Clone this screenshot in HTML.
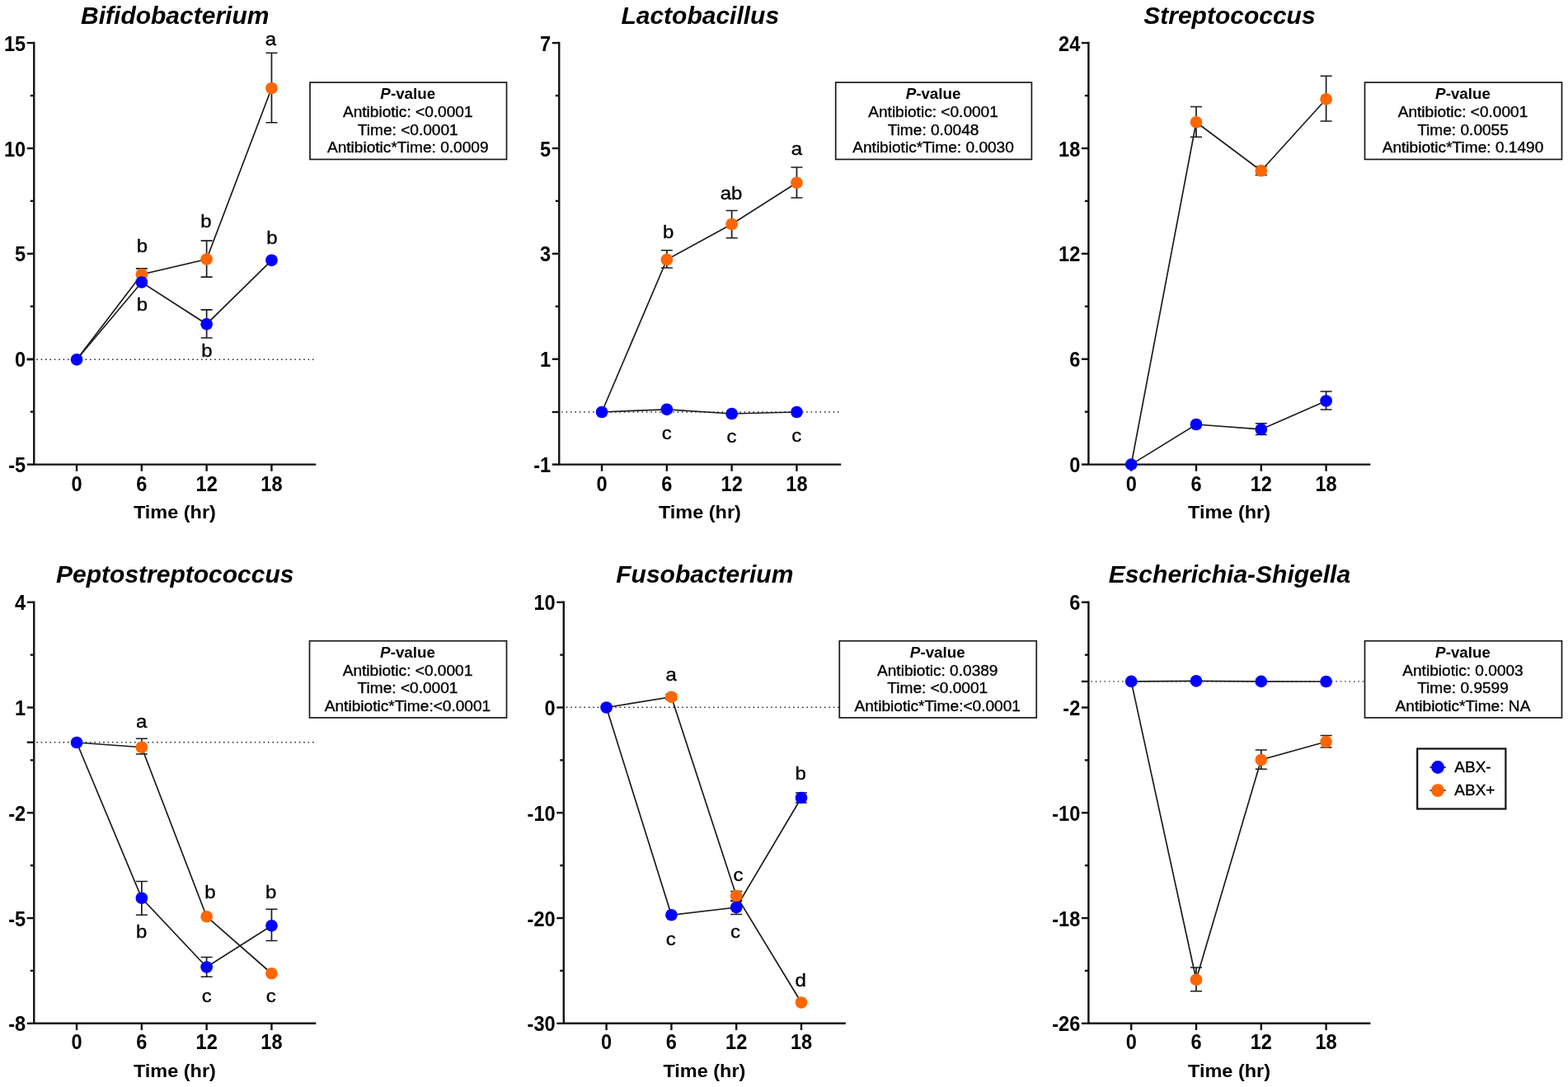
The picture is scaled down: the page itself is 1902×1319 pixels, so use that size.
<!DOCTYPE html>
<html><head><meta charset="utf-8"><title>Figure</title><style>
html,body{margin:0;padding:0;background:#fff}
svg{display:block}
text{font-family:"Liberation Sans", sans-serif;fill:#000}
.t{font-size:30px;font-weight:bold;font-style:italic;text-anchor:middle}
.yl{font-size:25.5px;font-weight:bold;text-anchor:end}
.xl{font-size:25.5px;font-weight:bold;text-anchor:middle}
.xt{font-size:22.8px;font-weight:bold;text-anchor:middle}
.lt{font-size:22.6px;text-anchor:middle;stroke:#111;stroke-width:0.4px}
.pv{font-size:18.8px;font-weight:bold;text-anchor:middle}
.pl{font-size:19.1px;text-anchor:middle;stroke:#111;stroke-width:0.4px}
.lg{font-size:19px;stroke:#111;stroke-width:0.4px}
.ax{fill:none;stroke:#111;stroke-width:2.4}
.tk{stroke:#111;stroke-width:2.4}
.ln{fill:none;stroke:#1c1c1c;stroke-width:1.7}
.eb{fill:none;stroke:#1c1c1c;stroke-width:1.7}
.dot{stroke:#222;stroke-width:1.3;stroke-dasharray:1.5 3.9}
.bx{fill:#fff;stroke:#1a1a1a;stroke-width:1.7}
</style></head><body>
<svg width="1902" height="1319" viewBox="0 0 1902 1319">
<rect width="1902" height="1319" fill="#fff"/>
<text x="212.25" y="28.5" class="t">Bifidobacterium</text>
<line x1="44.25" y1="436.25" x2="381.25" y2="436.25" class="dot"/>
<line x1="32.75" y1="436.25" x2="41.25" y2="436.25" class="tk"/>
<path d="M41.25 50.75V563.6H383.25" class="ax"/>
<line x1="32.75" y1="52.10" x2="41.25" y2="52.10" class="tk"/>
<text transform="translate(31.15 61.70) scale(0.925 1)" class="yl">15</text>
<line x1="36.75" y1="116.04" x2="41.25" y2="116.04" class="tk"/>
<line x1="32.75" y1="179.97" x2="41.25" y2="179.97" class="tk"/>
<text transform="translate(31.15 189.57) scale(0.925 1)" class="yl">10</text>
<line x1="36.75" y1="243.91" x2="41.25" y2="243.91" class="tk"/>
<line x1="32.75" y1="307.85" x2="41.25" y2="307.85" class="tk"/>
<text transform="translate(31.15 317.45) scale(0.925 1)" class="yl">5</text>
<line x1="36.75" y1="371.79" x2="41.25" y2="371.79" class="tk"/>
<line x1="32.75" y1="435.73" x2="41.25" y2="435.73" class="tk"/>
<text transform="translate(31.15 445.33) scale(0.925 1)" class="yl">0</text>
<line x1="36.75" y1="499.66" x2="41.25" y2="499.66" class="tk"/>
<line x1="32.75" y1="563.60" x2="41.25" y2="563.60" class="tk"/>
<text transform="translate(31.15 573.20) scale(0.925 1)" class="yl">-5</text>
<line x1="93.05" y1="563.6" x2="93.05" y2="571.8000000000001" class="tk"/>
<text transform="translate(93.05 596.00) scale(0.925 1)" class="xl">0</text>
<line x1="171.85" y1="563.6" x2="171.85" y2="571.8000000000001" class="tk"/>
<text transform="translate(171.85 596.00) scale(0.925 1)" class="xl">6</text>
<line x1="250.65" y1="563.6" x2="250.65" y2="571.8000000000001" class="tk"/>
<text transform="translate(250.65 596.00) scale(0.925 1)" class="xl">12</text>
<line x1="329.45" y1="563.6" x2="329.45" y2="571.8000000000001" class="tk"/>
<text transform="translate(329.45 596.00) scale(0.925 1)" class="xl">18</text>
<text transform="translate(211.85 629.00) scale(1.03 1)" class="xt">Time (hr)</text>
<polyline points="93.05,436.3 171.85,333 250.65,314.5 329.45,107" class="ln"/>
<polyline points="93.05,436.3 171.85,342.5 250.65,393.3 329.45,315.8" class="ln"/>
<path d="M164.85 325.8H178.85M171.85 325.8V340M164.85 340H178.85" class="eb"/>
<path d="M243.65 292.2H257.65M250.65 292.2V336.2M243.65 336.2H257.65" class="eb"/>
<path d="M322.45 64.25H336.45M329.45 64.25V148.75M322.45 148.75H336.45" class="eb"/>
<path d="M243.65 375.8H257.65M250.65 375.8V410M243.65 410H257.65" class="eb"/>
<circle cx="171.85" cy="333" r="7.35" fill="#ff6600"/>
<circle cx="250.65" cy="314.5" r="7.35" fill="#ff6600"/>
<circle cx="329.45" cy="107" r="7.35" fill="#ff6600"/>
<circle cx="93.05" cy="436.3" r="7.35" fill="#0000ff"/>
<circle cx="171.85" cy="342.5" r="7.35" fill="#0000ff"/>
<circle cx="250.65" cy="393.3" r="7.35" fill="#0000ff"/>
<circle cx="329.45" cy="315.8" r="7.35" fill="#0000ff"/>
<text transform="translate(172.50 305.80) scale(1.06 1)" class="lt">b</text>
<text transform="translate(172.50 376.70) scale(1.06 1)" class="lt">b</text>
<text transform="translate(250.00 276.30) scale(1.06 1)" class="lt">b</text>
<text transform="translate(330.00 295.80) scale(1.06 1)" class="lt">b</text>
<text transform="translate(250.80 432.50) scale(1.06 1)" class="lt">b</text>
<text transform="translate(328.50 54.50) scale(1.06 1)" class="lt">a</text>
<rect x="376" y="100" width="238.5" height="93.4" class="bx"/>
<text x="494.75" y="120.2" class="pv"><tspan font-style="italic">P</tspan>-value</text>
<text x="494.75" y="142.2" class="pl">Antibiotic: &lt;0.0001</text>
<text x="494.75" y="163.5" class="pl">Time: &lt;0.0001</text>
<text x="494.75" y="185.4" class="pl">Antibiotic*Time: 0.0009</text>
<text x="849.25" y="28.5" class="t">Lactobacillus</text>
<line x1="681.25" y1="500" x2="1018.25" y2="500" class="dot"/>
<line x1="669.75" y1="500" x2="678.25" y2="500" class="tk"/>
<path d="M678.25 50.75V563.6H1020.25" class="ax"/>
<line x1="669.75" y1="52.10" x2="678.25" y2="52.10" class="tk"/>
<text transform="translate(668.15 61.70) scale(0.925 1)" class="yl">7</text>
<line x1="673.75" y1="116.04" x2="678.25" y2="116.04" class="tk"/>
<line x1="669.75" y1="179.97" x2="678.25" y2="179.97" class="tk"/>
<text transform="translate(668.15 189.57) scale(0.925 1)" class="yl">5</text>
<line x1="673.75" y1="243.91" x2="678.25" y2="243.91" class="tk"/>
<line x1="669.75" y1="307.85" x2="678.25" y2="307.85" class="tk"/>
<text transform="translate(668.15 317.45) scale(0.925 1)" class="yl">3</text>
<line x1="673.75" y1="371.79" x2="678.25" y2="371.79" class="tk"/>
<line x1="669.75" y1="435.73" x2="678.25" y2="435.73" class="tk"/>
<text transform="translate(668.15 445.33) scale(0.925 1)" class="yl">1</text>
<line x1="669.75" y1="563.60" x2="678.25" y2="563.60" class="tk"/>
<text transform="translate(668.15 573.20) scale(0.925 1)" class="yl">-1</text>
<line x1="730.05" y1="563.6" x2="730.05" y2="571.8000000000001" class="tk"/>
<text transform="translate(730.05 596.00) scale(0.925 1)" class="xl">0</text>
<line x1="808.85" y1="563.6" x2="808.85" y2="571.8000000000001" class="tk"/>
<text transform="translate(808.85 596.00) scale(0.925 1)" class="xl">6</text>
<line x1="887.65" y1="563.6" x2="887.65" y2="571.8000000000001" class="tk"/>
<text transform="translate(887.65 596.00) scale(0.925 1)" class="xl">12</text>
<line x1="966.45" y1="563.6" x2="966.45" y2="571.8000000000001" class="tk"/>
<text transform="translate(966.45 596.00) scale(0.925 1)" class="xl">18</text>
<text transform="translate(848.85 629.00) scale(1.03 1)" class="xt">Time (hr)</text>
<polyline points="730.05,500 808.85,315 887.65,272 966.45,221.75" class="ln"/>
<polyline points="730.05,500 808.85,496.8 887.65,502 966.45,500" class="ln"/>
<path d="M801.85 303.75H815.85M808.85 303.75V325M801.85 325H815.85" class="eb"/>
<path d="M880.65 255.5H894.65M887.65 255.5V288.75M880.65 288.75H894.65" class="eb"/>
<path d="M959.45 203H973.45M966.45 203V240M959.45 240H973.45" class="eb"/>
<circle cx="808.85" cy="315" r="7.35" fill="#ff6600"/>
<circle cx="887.65" cy="272" r="7.35" fill="#ff6600"/>
<circle cx="966.45" cy="221.75" r="7.35" fill="#ff6600"/>
<circle cx="730.05" cy="500" r="7.35" fill="#0000ff"/>
<circle cx="808.85" cy="496.8" r="7.35" fill="#0000ff"/>
<circle cx="887.65" cy="502" r="7.35" fill="#0000ff"/>
<circle cx="966.45" cy="500" r="7.35" fill="#0000ff"/>
<text transform="translate(810.75 288.75) scale(1.06 1)" class="lt">b</text>
<text transform="translate(887.00 242.10) scale(1.06 1)" class="lt">ab</text>
<text transform="translate(966.50 188.20) scale(1.06 1)" class="lt">a</text>
<text transform="translate(808.75 533.40) scale(1.06 1)" class="lt">c</text>
<text transform="translate(887.50 537.00) scale(1.06 1)" class="lt">c</text>
<text transform="translate(966.25 535.60) scale(1.06 1)" class="lt">c</text>
<rect x="1013.7" y="100" width="237.7" height="93.4" class="bx"/>
<text x="1132.05" y="120.2" class="pv"><tspan font-style="italic">P</tspan>-value</text>
<text x="1132.05" y="142.2" class="pl">Antibiotic: &lt;0.0001</text>
<text x="1132.05" y="163.5" class="pl">Time: 0.0048</text>
<text x="1132.05" y="185.4" class="pl">Antibiotic*Time: 0.0030</text>
<text x="1491.40" y="28.5" class="t">Streptococcus</text>
<path d="M1320.4 50.75V563.6H1662.4" class="ax"/>
<line x1="1311.9" y1="52.10" x2="1320.4" y2="52.10" class="tk"/>
<text transform="translate(1310.30 61.70) scale(0.925 1)" class="yl">24</text>
<line x1="1315.9" y1="116.04" x2="1320.4" y2="116.04" class="tk"/>
<line x1="1311.9" y1="179.97" x2="1320.4" y2="179.97" class="tk"/>
<text transform="translate(1310.30 189.57) scale(0.925 1)" class="yl">18</text>
<line x1="1315.9" y1="243.91" x2="1320.4" y2="243.91" class="tk"/>
<line x1="1311.9" y1="307.85" x2="1320.4" y2="307.85" class="tk"/>
<text transform="translate(1310.30 317.45) scale(0.925 1)" class="yl">12</text>
<line x1="1315.9" y1="371.79" x2="1320.4" y2="371.79" class="tk"/>
<line x1="1311.9" y1="435.73" x2="1320.4" y2="435.73" class="tk"/>
<text transform="translate(1310.30 445.33) scale(0.925 1)" class="yl">6</text>
<line x1="1315.9" y1="499.66" x2="1320.4" y2="499.66" class="tk"/>
<line x1="1311.9" y1="563.60" x2="1320.4" y2="563.60" class="tk"/>
<text transform="translate(1310.30 573.20) scale(0.925 1)" class="yl">0</text>
<line x1="1372.20" y1="563.6" x2="1372.20" y2="571.8000000000001" class="tk"/>
<text transform="translate(1372.20 596.00) scale(0.925 1)" class="xl">0</text>
<line x1="1451.00" y1="563.6" x2="1451.00" y2="571.8000000000001" class="tk"/>
<text transform="translate(1451.00 596.00) scale(0.925 1)" class="xl">6</text>
<line x1="1529.80" y1="563.6" x2="1529.80" y2="571.8000000000001" class="tk"/>
<text transform="translate(1529.80 596.00) scale(0.925 1)" class="xl">12</text>
<line x1="1608.60" y1="563.6" x2="1608.60" y2="571.8000000000001" class="tk"/>
<text transform="translate(1608.60 596.00) scale(0.925 1)" class="xl">18</text>
<text transform="translate(1491.00 629.00) scale(1.03 1)" class="xt">Time (hr)</text>
<polyline points="1372.20,563.6 1451.00,148.25 1529.80,207.2 1608.60,120.25" class="ln"/>
<polyline points="1372.20,563.6 1451.00,515 1529.80,521 1608.60,486.5" class="ln"/>
<path d="M1444.00 129.5H1458.00M1451.00 129.5V166.25M1444.00 166.25H1458.00" class="eb"/>
<path d="M1522.80 202H1536.80M1529.80 202V212.4M1522.80 212.4H1536.80" class="eb"/>
<path d="M1601.60 92.25H1615.60M1608.60 92.25V147M1601.60 147H1615.60" class="eb"/>
<path d="M1522.80 513.75H1536.80M1529.80 513.75V527.5M1522.80 527.5H1536.80" class="eb"/>
<path d="M1601.60 475H1615.60M1608.60 475V497M1601.60 497H1615.60" class="eb"/>
<circle cx="1451.00" cy="148.25" r="7.35" fill="#ff6600"/>
<circle cx="1529.80" cy="207.2" r="7.35" fill="#ff6600"/>
<circle cx="1608.60" cy="120.25" r="7.35" fill="#ff6600"/>
<circle cx="1372.20" cy="563.6" r="7.35" fill="#0000ff"/>
<circle cx="1451.00" cy="515" r="7.35" fill="#0000ff"/>
<circle cx="1529.80" cy="521" r="7.35" fill="#0000ff"/>
<circle cx="1608.60" cy="486.5" r="7.35" fill="#0000ff"/>
<rect x="1655.5" y="100" width="239" height="93.4" class="bx"/>
<text x="1774.5" y="120.2" class="pv"><tspan font-style="italic">P</tspan>-value</text>
<text x="1774.5" y="142.2" class="pl">Antibiotic: &lt;0.0001</text>
<text x="1774.5" y="163.5" class="pl">Time: 0.0055</text>
<text x="1774.5" y="185.4" class="pl">Antibiotic*Time: 0.1490</text>
<text x="212.25" y="706.6" class="t">Peptostreptococcus</text>
<line x1="44.25" y1="900.75" x2="381.25" y2="900.75" class="dot"/>
<line x1="32.75" y1="900.75" x2="41.25" y2="900.75" class="tk"/>
<path d="M41.25 729.4V1241.8H383.25" class="ax"/>
<line x1="32.75" y1="730.75" x2="41.25" y2="730.75" class="tk"/>
<text transform="translate(31.15 740.35) scale(0.925 1)" class="yl">4</text>
<line x1="36.75" y1="794.63" x2="41.25" y2="794.63" class="tk"/>
<line x1="32.75" y1="858.51" x2="41.25" y2="858.51" class="tk"/>
<text transform="translate(31.15 868.11) scale(0.925 1)" class="yl">1</text>
<line x1="36.75" y1="922.39" x2="41.25" y2="922.39" class="tk"/>
<line x1="32.75" y1="986.27" x2="41.25" y2="986.27" class="tk"/>
<text transform="translate(31.15 995.88) scale(0.925 1)" class="yl">-2</text>
<line x1="36.75" y1="1050.16" x2="41.25" y2="1050.16" class="tk"/>
<line x1="32.75" y1="1114.04" x2="41.25" y2="1114.04" class="tk"/>
<text transform="translate(31.15 1123.64) scale(0.925 1)" class="yl">-5</text>
<line x1="36.75" y1="1177.92" x2="41.25" y2="1177.92" class="tk"/>
<line x1="32.75" y1="1241.80" x2="41.25" y2="1241.80" class="tk"/>
<text transform="translate(31.15 1251.40) scale(0.925 1)" class="yl">-8</text>
<line x1="93.05" y1="1241.8" x2="93.05" y2="1250.0" class="tk"/>
<text transform="translate(93.05 1273.20) scale(0.925 1)" class="xl">0</text>
<line x1="171.85" y1="1241.8" x2="171.85" y2="1250.0" class="tk"/>
<text transform="translate(171.85 1273.20) scale(0.925 1)" class="xl">6</text>
<line x1="250.65" y1="1241.8" x2="250.65" y2="1250.0" class="tk"/>
<text transform="translate(250.65 1273.20) scale(0.925 1)" class="xl">12</text>
<line x1="329.45" y1="1241.8" x2="329.45" y2="1250.0" class="tk"/>
<text transform="translate(329.45 1273.20) scale(0.925 1)" class="xl">18</text>
<text transform="translate(211.85 1307.00) scale(1.03 1)" class="xt">Time (hr)</text>
<polyline points="93.05,901 171.85,906.75 250.65,1112.25 329.45,1181.25" class="ln"/>
<polyline points="93.05,901 171.85,1089.75 250.65,1173.5 329.45,1123.25" class="ln"/>
<path d="M164.85 896.25H178.85M171.85 896.25V915M164.85 915H178.85" class="eb"/>
<path d="M164.85 1069.5H178.85M171.85 1069.5V1110.25M164.85 1110.25H178.85" class="eb"/>
<path d="M243.65 1161.5H257.65M250.65 1161.5V1185.25M243.65 1185.25H257.65" class="eb"/>
<path d="M322.45 1103.25H336.45M329.45 1103.25V1141.5M322.45 1141.5H336.45" class="eb"/>
<circle cx="171.85" cy="906.75" r="7.35" fill="#ff6600"/>
<circle cx="250.65" cy="1112.25" r="7.35" fill="#ff6600"/>
<circle cx="329.45" cy="1181.25" r="7.35" fill="#ff6600"/>
<circle cx="93.05" cy="901" r="7.35" fill="#0000ff"/>
<circle cx="171.85" cy="1089.75" r="7.35" fill="#0000ff"/>
<circle cx="250.65" cy="1173.5" r="7.35" fill="#0000ff"/>
<circle cx="329.45" cy="1123.25" r="7.35" fill="#0000ff"/>
<text transform="translate(171.70 883.00) scale(1.06 1)" class="lt">a</text>
<text transform="translate(171.75 1138.25) scale(1.06 1)" class="lt">b</text>
<text transform="translate(255.00 1089.50) scale(1.06 1)" class="lt">b</text>
<text transform="translate(328.75 1089.50) scale(1.06 1)" class="lt">b</text>
<text transform="translate(250.75 1216.00) scale(1.06 1)" class="lt">c</text>
<text transform="translate(328.75 1216.00) scale(1.06 1)" class="lt">c</text>
<rect x="375.5" y="777.7" width="239" height="93.2" class="bx"/>
<text x="494.5" y="797.9000000000001" class="pv"><tspan font-style="italic">P</tspan>-value</text>
<text x="494.5" y="819.9" class="pl">Antibiotic: &lt;0.0001</text>
<text x="494.5" y="841.2" class="pl">Time: &lt;0.0001</text>
<text x="494.5" y="863.1" class="pl">Antibiotic*Time:&lt;0.0001</text>
<text x="854.80" y="706.6" class="t">Fusobacterium</text>
<line x1="686.8" y1="858.25" x2="1018" y2="858.25" class="dot"/>
<path d="M683.8 729.4V1241.8H1025.8" class="ax"/>
<line x1="675.3" y1="730.75" x2="683.8" y2="730.75" class="tk"/>
<text transform="translate(673.70 740.35) scale(0.925 1)" class="yl">10</text>
<line x1="679.3" y1="794.63" x2="683.8" y2="794.63" class="tk"/>
<line x1="675.3" y1="858.51" x2="683.8" y2="858.51" class="tk"/>
<text transform="translate(673.70 868.11) scale(0.925 1)" class="yl">0</text>
<line x1="679.3" y1="922.39" x2="683.8" y2="922.39" class="tk"/>
<line x1="675.3" y1="986.27" x2="683.8" y2="986.27" class="tk"/>
<text transform="translate(673.70 995.88) scale(0.925 1)" class="yl">-10</text>
<line x1="679.3" y1="1050.16" x2="683.8" y2="1050.16" class="tk"/>
<line x1="675.3" y1="1114.04" x2="683.8" y2="1114.04" class="tk"/>
<text transform="translate(673.70 1123.64) scale(0.925 1)" class="yl">-20</text>
<line x1="679.3" y1="1177.92" x2="683.8" y2="1177.92" class="tk"/>
<line x1="675.3" y1="1241.80" x2="683.8" y2="1241.80" class="tk"/>
<text transform="translate(673.70 1251.40) scale(0.925 1)" class="yl">-30</text>
<line x1="735.60" y1="1241.8" x2="735.60" y2="1250.0" class="tk"/>
<text transform="translate(735.60 1273.20) scale(0.925 1)" class="xl">0</text>
<line x1="814.40" y1="1241.8" x2="814.40" y2="1250.0" class="tk"/>
<text transform="translate(814.40 1273.20) scale(0.925 1)" class="xl">6</text>
<line x1="893.20" y1="1241.8" x2="893.20" y2="1250.0" class="tk"/>
<text transform="translate(893.20 1273.20) scale(0.925 1)" class="xl">12</text>
<line x1="972.00" y1="1241.8" x2="972.00" y2="1250.0" class="tk"/>
<text transform="translate(972.00 1273.20) scale(0.925 1)" class="xl">18</text>
<text transform="translate(854.40 1307.00) scale(1.03 1)" class="xt">Time (hr)</text>
<polyline points="735.60,858.5 814.40,845.75 893.20,1087 972.00,1216.5" class="ln"/>
<polyline points="735.60,858.5 814.40,1110.25 893.20,1101 972.00,968" class="ln"/>
<path d="M807.40 842.5H821.40M814.40 842.5V849M807.40 849H821.40" class="eb"/>
<path d="M886.20 1081.5H900.20M893.20 1081.5V1092.75M886.20 1092.75H900.20" class="eb"/>
<path d="M886.20 1093.5H900.20M893.20 1093.5V1109.5M886.20 1109.5H900.20" class="eb"/>
<path d="M965.00 962H979.00M972.00 962V974M965.00 974H979.00" class="eb"/>
<circle cx="814.40" cy="845.75" r="7.35" fill="#ff6600"/>
<circle cx="893.20" cy="1087" r="7.35" fill="#ff6600"/>
<circle cx="972.00" cy="1216.5" r="7.35" fill="#ff6600"/>
<circle cx="735.60" cy="858.5" r="7.35" fill="#0000ff"/>
<circle cx="814.40" cy="1110.25" r="7.35" fill="#0000ff"/>
<circle cx="893.20" cy="1101" r="7.35" fill="#0000ff"/>
<circle cx="972.00" cy="968" r="7.35" fill="#0000ff"/>
<text transform="translate(814.25 826.00) scale(1.06 1)" class="lt">a</text>
<text transform="translate(971.25 946.30) scale(1.06 1)" class="lt">b</text>
<text transform="translate(895.50 1068.50) scale(1.06 1)" class="lt">c</text>
<text transform="translate(892.00 1138.25) scale(1.06 1)" class="lt">c</text>
<text transform="translate(813.75 1146.50) scale(1.06 1)" class="lt">c</text>
<text transform="translate(971.25 1196.50) scale(1.06 1)" class="lt">d</text>
<rect x="1018.25" y="777.7" width="239" height="93.2" class="bx"/>
<text x="1137.25" y="797.9000000000001" class="pv"><tspan font-style="italic">P</tspan>-value</text>
<text x="1137.25" y="819.9" class="pl">Antibiotic: 0.0389</text>
<text x="1137.25" y="841.2" class="pl">Time: &lt;0.0001</text>
<text x="1137.25" y="863.1" class="pl">Antibiotic*Time:&lt;0.0001</text>
<text x="1491.40" y="706.6" class="t">Escherichia-Shigella</text>
<line x1="1323.4" y1="826.9" x2="1655" y2="826.9" class="dot"/>
<line x1="1311.9" y1="826.9" x2="1320.4" y2="826.9" class="tk"/>
<path d="M1320.4 729.4V1241.8H1662.4" class="ax"/>
<line x1="1311.9" y1="730.75" x2="1320.4" y2="730.75" class="tk"/>
<text transform="translate(1310.30 740.35) scale(0.925 1)" class="yl">6</text>
<line x1="1315.9" y1="794.63" x2="1320.4" y2="794.63" class="tk"/>
<line x1="1311.9" y1="858.51" x2="1320.4" y2="858.51" class="tk"/>
<text transform="translate(1310.30 868.11) scale(0.925 1)" class="yl">-2</text>
<line x1="1315.9" y1="922.39" x2="1320.4" y2="922.39" class="tk"/>
<line x1="1311.9" y1="986.27" x2="1320.4" y2="986.27" class="tk"/>
<text transform="translate(1310.30 995.88) scale(0.925 1)" class="yl">-10</text>
<line x1="1315.9" y1="1050.16" x2="1320.4" y2="1050.16" class="tk"/>
<line x1="1311.9" y1="1114.04" x2="1320.4" y2="1114.04" class="tk"/>
<text transform="translate(1310.30 1123.64) scale(0.925 1)" class="yl">-18</text>
<line x1="1315.9" y1="1177.92" x2="1320.4" y2="1177.92" class="tk"/>
<line x1="1311.9" y1="1241.80" x2="1320.4" y2="1241.80" class="tk"/>
<text transform="translate(1310.30 1251.40) scale(0.925 1)" class="yl">-26</text>
<line x1="1372.20" y1="1241.8" x2="1372.20" y2="1250.0" class="tk"/>
<text transform="translate(1372.20 1273.20) scale(0.925 1)" class="xl">0</text>
<line x1="1451.00" y1="1241.8" x2="1451.00" y2="1250.0" class="tk"/>
<text transform="translate(1451.00 1273.20) scale(0.925 1)" class="xl">6</text>
<line x1="1529.80" y1="1241.8" x2="1529.80" y2="1250.0" class="tk"/>
<text transform="translate(1529.80 1273.20) scale(0.925 1)" class="xl">12</text>
<line x1="1608.60" y1="1241.8" x2="1608.60" y2="1250.0" class="tk"/>
<text transform="translate(1608.60 1273.20) scale(0.925 1)" class="xl">18</text>
<text transform="translate(1491.00 1307.00) scale(1.03 1)" class="xt">Time (hr)</text>
<polyline points="1372.20,826.9 1451.00,1188.75 1529.80,922 1608.60,900" class="ln"/>
<polyline points="1372.20,826.9 1451.00,826.3 1529.80,826.9 1608.60,827.0" class="ln"/>
<path d="M1444.00 1174H1458.00M1451.00 1174V1202.75M1444.00 1202.75H1458.00" class="eb"/>
<path d="M1522.80 910H1536.80M1529.80 910V933.25M1522.80 933.25H1536.80" class="eb"/>
<path d="M1601.60 892.5H1615.60M1608.60 892.5V907M1601.60 907H1615.60" class="eb"/>
<circle cx="1451.00" cy="1188.75" r="7.35" fill="#ff6600"/>
<circle cx="1529.80" cy="922" r="7.35" fill="#ff6600"/>
<circle cx="1608.60" cy="900" r="7.35" fill="#ff6600"/>
<circle cx="1372.20" cy="826.9" r="7.35" fill="#0000ff"/>
<circle cx="1451.00" cy="826.3" r="7.35" fill="#0000ff"/>
<circle cx="1529.80" cy="826.9" r="7.35" fill="#0000ff"/>
<circle cx="1608.60" cy="827.0" r="7.35" fill="#0000ff"/>
<rect x="1655.5" y="777.7" width="239" height="93.2" class="bx"/>
<text x="1774.5" y="797.9000000000001" class="pv"><tspan font-style="italic">P</tspan>-value</text>
<text x="1774.5" y="819.9" class="pl">Antibiotic: 0.0003</text>
<text x="1774.5" y="841.2" class="pl">Time: 0.9599</text>
<text x="1774.5" y="863.1" class="pl">Antibiotic*Time: NA</text>
<rect x="1719.2" y="908.5" width="107.2" height="73" fill="#fff" stroke="#111" stroke-width="2.2"/>
<line x1="1734.5" y1="931" x2="1753.7" y2="931" class="eb"/>
<circle cx="1744" cy="931" r="7.9" fill="#0000ff"/>
<text x="1764.3" y="937.2" class="lg">ABX-</text>
<line x1="1734.5" y1="959.2" x2="1753.7" y2="959.2" class="eb"/>
<circle cx="1744" cy="959.2" r="7.9" fill="#ff6600"/>
<text x="1764.3" y="965.4" class="lg">ABX+</text>
</svg>
</body></html>
